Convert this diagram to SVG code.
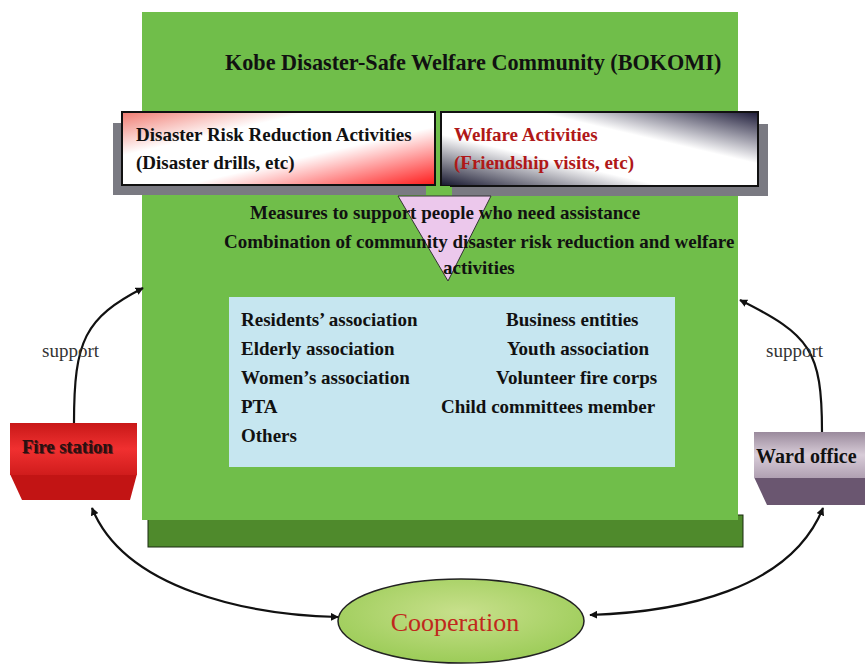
<svg xmlns="http://www.w3.org/2000/svg" width="865" height="666" viewBox="0 0 865 666">
<defs>
<linearGradient id="gRed" x1="0" y1="0" x2="1" y2="1">
<stop offset="0" stop-color="#f07a70"/>
<stop offset="0.3" stop-color="#ffffff"/>
<stop offset="0.6" stop-color="#ffffff"/>
<stop offset="1" stop-color="#ff1a1a"/>
</linearGradient>
<linearGradient id="gNavy" x1="0" y1="1" x2="1" y2="0">
<stop offset="0" stop-color="#14142c"/>
<stop offset="0.35" stop-color="#ffffff"/>
<stop offset="0.65" stop-color="#ffffff"/>
<stop offset="1" stop-color="#1c1a38"/>
</linearGradient>
<linearGradient id="gFireTop" x1="0" y1="0" x2="0" y2="1">
<stop offset="0" stop-color="#c81818"/>
<stop offset="0.5" stop-color="#f03030"/>
<stop offset="1" stop-color="#d01c1c"/>
</linearGradient>
<linearGradient id="gWardTop" x1="0" y1="0" x2="0" y2="1">
<stop offset="0" stop-color="#9a8a9c"/>
<stop offset="0.5" stop-color="#d8ccd8"/>
<stop offset="1" stop-color="#b0a0b2"/>
</linearGradient>
<radialGradient id="gEll" cx="0.5" cy="0.4" r="0.6">
<stop offset="0" stop-color="#c8e08c"/>
<stop offset="1" stop-color="#9ccc58"/>
</radialGradient>
<marker id="arr" viewBox="0 0 10 10" refX="9" refY="5" markerWidth="8" markerHeight="8" orient="auto-start-reverse" markerUnits="userSpaceOnUse">
<path d="M0,0 L10,5 L0,10 z" fill="#111"/>
</marker>
<style>
.b{font-family:"Liberation Serif","Times New Roman",serif;font-weight:bold;fill:#111;}
.t16{font-size:19px;}
.red{fill:#b01818;}
.sup{font-family:"Liberation Serif","Times New Roman",serif;font-size:19px;fill:#333;}
.con{fill:none;stroke:#111;stroke-width:2.2;}
</style>
</defs>
<rect width="865" height="666" fill="#ffffff"/>

<g id="bokomi">
<rect x="148" y="515" width="595" height="32" fill="#4f8a2c" stroke="#1a2a10" stroke-width="1"/>
<rect x="142" y="12" width="596" height="508" fill="#70be4a"/>
<text class="b" x="225" y="70" font-size="22.2px">Kobe Disaster-Safe Welfare Community (BOKOMI)</text>
</g>

<g id="disaster">
<rect x="113" y="123" width="313" height="72" fill="#7a7a82"/>
<rect x="122" y="112" width="313" height="73" fill="url(#gRed)" stroke="#111" stroke-width="2"/>
<text class="b t16" x="136" y="141">Disaster Risk Reduction Activities</text>
<text class="b t16" x="136" y="169">(Disaster drills, etc)</text>
</g>

<g id="welfare">
<rect x="452" y="124" width="316" height="72" fill="#7a7a82"/>
<rect x="441" y="112" width="317" height="74" fill="url(#gNavy)" stroke="#111" stroke-width="2"/>
<text class="b t16 red" x="454" y="141">Welfare Activities</text>
<text class="b t16 red" x="454" y="169">(Friendship visits, etc)</text>
</g>

<g id="merge">
<rect x="427" y="186" width="23" height="10" fill="#70be4a"/>
<polygon points="398,196 491,196 448,281" fill="#ecc8ec" stroke="#333" stroke-width="1"/>
<text class="b t16" x="250" y="219">Measures to support people who need assistance</text>
<text class="b t16" x="224" y="248">Combination of community disaster risk reduction and welfare</text>
<text class="b t16" x="443" y="274">activities</text>
</g>

<g id="members">
<rect x="229" y="297" width="446" height="170" fill="#c6e6f0"/>
<text class="b t16" x="241" y="326">Residents’ association</text>
<text class="b t16" x="241" y="355">Elderly association</text>
<text class="b t16" x="241" y="384">Women’s association</text>
<text class="b t16" x="241" y="413">PTA</text>
<text class="b t16" x="241" y="442">Others</text>
<text class="b t16" x="506" y="326">Business entities</text>
<text class="b t16" x="507" y="355">Youth association</text>
<text class="b t16" x="496" y="384">Volunteer fire corps</text>
<text class="b t16" x="441" y="413">Child committees member</text>
</g>

<g id="fire-station">
<polygon points="10,474 137,474 130,500 22,500" fill="#c21414"/>
<rect x="10" y="423" width="127" height="52" fill="url(#gFireTop)"/>
<text class="b" x="23" y="454" font-size="18.5px" fill="#ffffff" opacity="0.6">Fire station</text>
<text class="b" x="22" y="453" font-size="18.5px" style="fill:#2a1010">Fire station</text>
</g>

<g id="ward-office">
<polygon points="754,477 865,477 865,505 767,505" fill="#6a5670"/>
<rect x="754" y="432" width="111" height="46" fill="url(#gWardTop)"/>
<text class="b" x="756" y="463" font-size="20px">Ward office</text>
</g>

<g id="cooperation">
<ellipse cx="461" cy="621" rx="123" ry="42" fill="url(#gEll)" stroke="#222" stroke-width="1.5"/>
<text x="455" y="631" text-anchor="middle" font-family="Liberation Serif,Times New Roman,serif" font-size="26px" fill="#c0281c">Cooperation</text>
</g>

<g id="connectors">
<path class="con" d="M74,423 C74,340 85,318 143,288" marker-end="url(#arr)"/>
<path class="con" d="M822,432 C822,350 810,335 740,300" marker-end="url(#arr)"/>
<path class="con" d="M92,508 C125,590 250,615 338,617" marker-start="url(#arr)" marker-end="url(#arr)"/>
<path class="con" d="M823,508 C790,590 680,612 590,615" marker-start="url(#arr)" marker-end="url(#arr)"/>
<text class="sup" x="42" y="357">support</text>
<text class="sup" x="766" y="357">support</text>
</g>
</svg>
